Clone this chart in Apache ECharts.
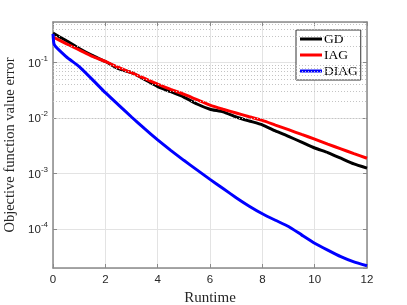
<!DOCTYPE html>
<html><head><meta charset="utf-8">
<script src="https://cdn.jsdelivr.net/npm/echarts@6/dist/echarts.min.js"></script>
<style>html,body{margin:0;padding:0;background:#fff}#c{width:407px;height:305px}</style>
</head><body><div id="c"></div>
<script>
// ---- data ----
const gdX   = [0, 0.5, 1, 1.5, 2, 2.5, 3, 3.5, 4, 4.5, 5, 5.5, 6, 6.5, 7, 7.5, 8, 8.5, 9, 9.5, 10, 10.5, 11, 11.5, 12];
const gdY   = [0.34, 0.25, 0.18, 0.135, 0.105, 0.078, 0.066, 0.05, 0.037, 0.03, 0.024, 0.018, 0.0145, 0.013, 0.0105, 0.0089, 0.0076, 0.0059, 0.0047, 0.0037, 0.0029, 0.0024, 0.0019, 0.0015, 0.00126];
const iagX  = [0, 0.5, 1, 1.5, 2, 2.5, 3, 3.5, 4, 4.5, 5, 5.5, 6, 6.5, 7, 7.5, 8, 8.5, 9, 9.5, 10, 10.5, 11, 11.5, 12];
const iagY  = [0.29, 0.22, 0.17, 0.13, 0.105, 0.082, 0.066, 0.052, 0.041, 0.033, 0.027, 0.0215, 0.0172, 0.0145, 0.0124, 0.0106, 0.0091, 0.0075, 0.0062, 0.0051, 0.0042, 0.0034, 0.0028, 0.0023, 0.0019];
const diagX = [0, 0.05, 0.5, 1, 1.5, 2, 2.5, 3, 3.5, 4, 4.5, 5, 5.5, 6, 6.5, 7, 7.5, 8, 8.5, 9, 9.5, 10, 10.5, 11, 11.5, 12];
const diagY = [0.33, 0.21, 0.129, 0.085, 0.050, 0.0288, 0.0174, 0.0105, 0.00646, 0.00407, 0.00263, 0.00174, 0.00117, 0.00079, 0.00054, 0.00037, 0.00026, 0.00019, 0.000145, 0.000112, 0.000079, 0.000056, 0.000042, 0.000032, 0.0000257, 0.0000219];
const seriesNames = ['GD', 'IAG', 'DIAG'];
const yMin = 2.0e-5, yMax = 0.54;
const xMin = 0, xMax = 12, xStep = 2;

function pairs(xs, ys) { return xs.map((x, i) => [x, ys[i]]); }
// minor grid values 2..9 x 10^k
const minorVals = [];
for (let k = -5; k <= 0; k++) for (let m = 2; m <= 9; m++) {
  const v = m * Math.pow(10, k);
  if (v > yMin && v < yMax) minorVals.push(v);
}

const serif = '"Liberation Serif", "DejaVu Serif", serif';
const sans = '"Liberation Sans", Arial, sans-serif';
const axisCol = '#8a8a8a';
const gridCol = '#e3e3e3';

const chart = echarts.init(document.getElementById('c'), null, {renderer: 'canvas'});
chart.setOption({
  animation: false,
  backgroundColor: '#fff',
  grid: {left: 53, right: 40, top: 22, bottom: 37, containLabel: false, outerBoundsMode: 'none'},
  legend: {
    orient: 'vertical', left: 296, top: 30,
    data: seriesNames,
    icon: 'rect', itemWidth: 22, itemHeight: 3, itemGap: 2,
    padding: [2, 3, 2, 4],
    borderColor: '#333', borderWidth: 1, backgroundColor: '#fff', borderRadius: 0,
    textStyle: {fontFamily: serif, fontSize: 13.5, color: '#000', padding: [0, 0, 0, -3], lineHeight: 14}
  },
  xAxis: [{
    type: 'value', min: xMin, max: xMax, interval: xStep,
    name: 'Runtime', nameLocation: 'middle', nameGap: 19,
    nameTextStyle: {fontFamily: serif, fontSize: 15, color: '#262626'},
    axisLine: {show: true, onZero: false, lineStyle: {color: axisCol, width: 1.5}},
    axisTick: {show: true, inside: true, length: 4, lineStyle: {color: axisCol}},
    axisLabel: {fontFamily: sans, fontSize: 11.5, color: '#262626', margin: 6},
    splitLine: {show: true, lineStyle: {color: gridCol, width: 1}}
  }, {
    type: 'value', min: xMin, max: xMax, interval: xStep, position: 'top',
    axisLine: {show: true, onZero: false, lineStyle: {color: axisCol, width: 1.5}},
    axisTick: {show: true, inside: true, length: 4, lineStyle: {color: axisCol}},
    axisLabel: {show: false}, splitLine: {show: false}
  }],
  yAxis: [{
    type: 'log', logBase: 10, min: yMin, max: yMax,
    name: 'Objective function value error', nameLocation: 'middle', nameGap: 27,
    nameTextStyle: {fontFamily: serif, fontSize: 14.5, color: '#262626'},
    axisLine: {show: true, onZero: false, lineStyle: {color: axisCol, width: 1.5}},
    axisTick: {show: true, inside: true, length: 4, lineStyle: {color: axisCol}},
    axisLabel: {
      showMinLabel: false, showMaxLabel: false, margin: 5,
      formatter: function (v) {
        const l = Math.log10(v), e = Math.round(l);
        if (Math.abs(l - e) > 0.01) return '';
        return '{b|10}{s|' + e + '}';
      },
      rich: {
        b: {fontFamily: sans, fontSize: 11.5, color: '#262626', verticalAlign: 'bottom', lineHeight: 14},
        s: {fontFamily: sans, fontSize: 8, color: '#262626', verticalAlign: 'bottom', lineHeight: 14, padding: [0, 0, 7, 0]}
      }
    },
    splitLine: {show: true, lineStyle: {color: gridCol, width: 1}}
  }, {
    type: 'log', logBase: 10, min: yMin, max: yMax, position: 'right',
    axisLine: {show: true, onZero: false, lineStyle: {color: axisCol, width: 1.5}},
    axisTick: {show: true, inside: true, length: 4, lineStyle: {color: axisCol}},
    axisLabel: {show: false}, splitLine: {show: false}
  }],
  series: [
    {
      type: 'line', name: '_minor', data: [], z: 1, silent: true,
      markLine: {
        silent: true, symbol: ['none', 'none'], animation: false,
        label: {show: false},
        lineStyle: {type: [1, 2], color: '#c4c4c4', width: 1},
        data: minorVals.map(v => ({yAxis: v}))
      }
    },
    {type: 'line', name: 'GD', data: pairs(gdX, gdY), showSymbol: false, symbol: 'none', z: 3, smooth: 0.15,
     lineStyle: {color: '#000000', width: 3}, itemStyle: {color: '#000000'}},
    {type: 'line', name: 'IAG', data: pairs(iagX, iagY), showSymbol: false, symbol: 'none', z: 4, smooth: 0.15,
     lineStyle: {color: '#ff0000', width: 3}, itemStyle: {color: '#ff0000'}},
    {type: 'line', name: 'DIAG', data: pairs(diagX, diagY), showSymbol: false, symbol: 'none', z: 5, smooth: 0.15,
     lineStyle: {color: '#0000ff', width: 3}, itemStyle: {color: '#0000ff'}}
  ]
});
</script></body></html>
